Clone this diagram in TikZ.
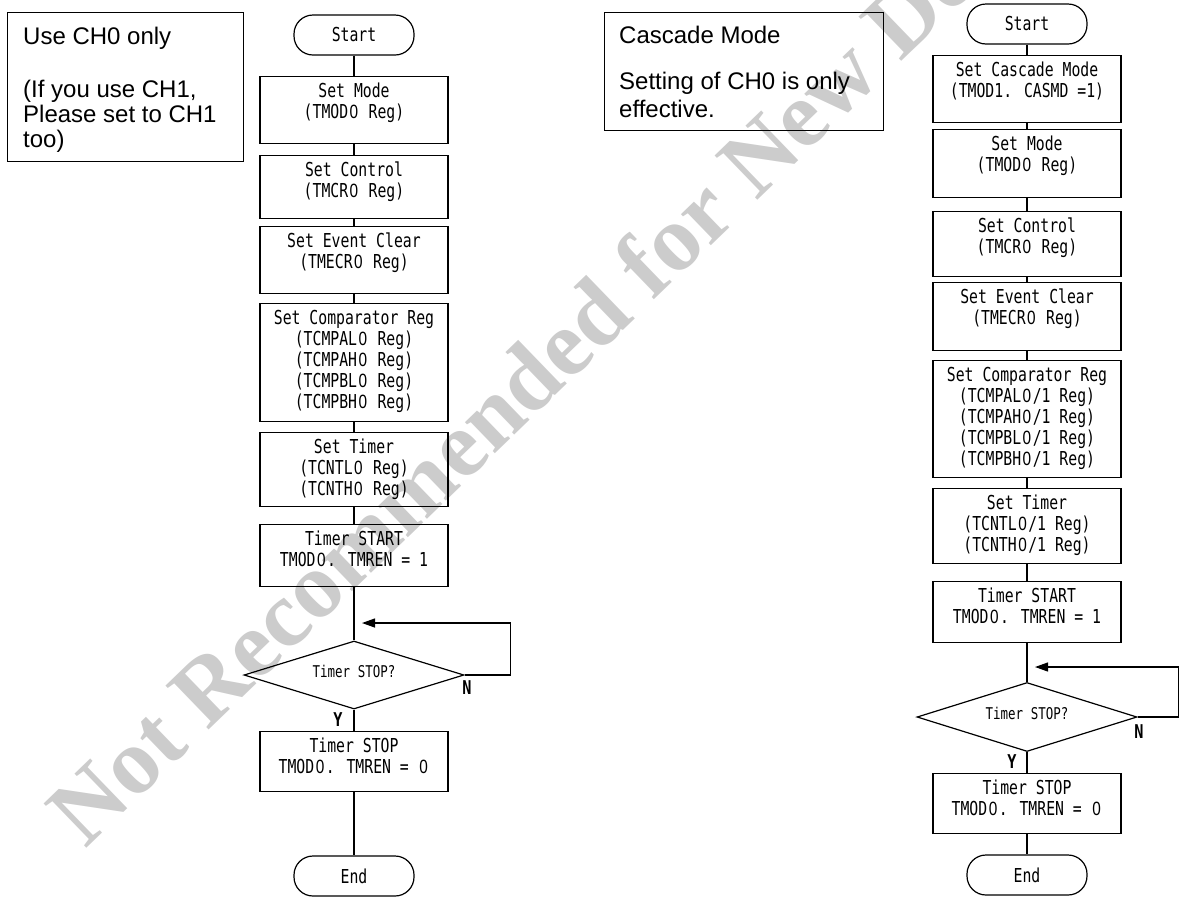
\documentclass[tikz,border=0pt]{standalone}
\usepackage{fontspec}
\setmainfont{Liberation Sans}
\newfontfamily\gothic[FakeStretch=0.77]{DejaVu Sans Mono}
\newfontfamily\zerofamily[FakeStretch=0.8]{Liberation Sans}
\newfontfamily\ynfamily[FakeStretch=0.8]{DejaVu Sans Mono}
\newfontfamily\markfamily{Liberation Serif}
\usetikzlibrary{arrows.meta,shapes.geometric}
\definecolor{wmgray}{RGB}{204,204,204}
\newcommand\ptfont{\gothic\fontsize{19.2}{21}\selectfont\lineskiplimit=-30pt}
\newcommand\decfont{\gothic\fontsize{16.2}{17}\selectfont}
\newcommand\tstrut{\rule{0pt}{16pt}}
% plain (undotted) zero, one cell wide
\newcommand\z{\makebox[0.602em][c]{\zerofamily 0}}
% a process box: name, centre x, top y, height, text
\newcommand\stepbox[5]{%
  \node[proc, minimum height=#4pt] (#1) at (#2,#3) {};
  \node[ptext] (#1-t) at ([yshift=-5.5pt]#1.north) {\tstrut#5};
}
\begin{document}
\begin{tikzpicture}[x=1pt, y=-1pt,
  proc/.style={draw, line width=1.2pt, minimum width=188pt, inner sep=0pt, anchor=north},
  ptext/.style={font=\ptfont, align=center, anchor=north, inner sep=0pt},
  term/.style={draw, line width=1.2pt, rounded corners=19pt, minimum width=120pt,
    minimum height=40pt, inner sep=0pt, font=\ptfont},
  dec/.style={draw, diamond, aspect=3.2, minimum width=220pt, minimum height=68pt,
    inner sep=0pt, line width=1.2pt},
  dectext/.style={font=\decfont, inner sep=0pt},
  note/.style={draw, line width=1.2pt, inner sep=0pt, anchor=north west},
  notetext/.style={font=\fontsize{24}{28}\selectfont, anchor=base west, inner sep=0pt},
  yn/.style={font=\ynfamily\bfseries\fontsize{19}{19}\selectfont, inner sep=0pt},
  conn/.style={line width=1.2pt},
  arrow/.style={conn, -{Triangle[length=13pt,width=9pt]}},
  wmark/.style={font=\markfamily\bfseries\fontsize{94}{94}\selectfont, text=wmgray,
    rotate=44, inner sep=0pt}]
\useasboundingbox (0,0) rectangle (1182,898);

% watermark behind the charts
\node[wmark] (wm) at (575,345) {Not Recommended for New Design};

% ---------------- single channel ----------------
\node[note, minimum width=236pt, minimum height=149pt] (lnote) at (7,12) {};
\node[notetext] (lnote-1) at (23,44) {Use CH0 only};
\node[notetext] (lnote-2) at (23,97) {(If you use CH1,};
\node[notetext] (lnote-3) at (23,122) {Please set to CH1};
\node[notetext] (lnote-4) at (23,147) {too)};

\node[term] (lstart) at (354,35) {Start};
\stepbox{lmode}{354}{76}{67}{Set Mode\\(TMOD\z{} Reg)}
\stepbox{lctrl}{354}{155}{63}{Set Control\\(TMCR\z{} Reg)}
\stepbox{levt}{354}{226}{67}{Set Event Clear\\(TMECR\z{} Reg)}
\stepbox{lcmp}{354}{303}{118}{Set Comparator Reg\\(TCMPAL\z{} Reg)\\(TCMPAH\z{} Reg)\\(TCMPBL\z{} Reg)\\(TCMPBH\z{} Reg)}
\stepbox{ltim}{354}{432}{74}{Set Timer\\(TCNTL\z{} Reg)\\(TCNTH\z{} Reg)}
\stepbox{lgo}{354}{524}{62}{Timer START\\TMOD\z. TMREN = 1}
\node[dec] (ldec) at (354,675) {};
\node[dectext] (ldec-t) at (354,671) {Timer STOP?};
\stepbox{lstop}{354}{731}{60}{Timer STOP\\TMOD\z. TMREN = \z}
\node[term] (lend) at (354,876) {End};

\draw[conn] (lstart) -- (lmode);
\draw[conn] (lmode) -- (lctrl);
\draw[conn] (lctrl) -- (levt);
\draw[conn] (levt) -- (lcmp);
\draw[conn] (lcmp) -- (ltim);
\draw[conn] (ltim) -- (lgo);
\draw[conn] (lgo) -- (ldec);
\draw[conn] (ldec) -- (lstop);
\draw[conn] (lstop) -- (lend);
\coordinate (ltip) at (362,623);
\draw[arrow] (ldec.east) -- ++(46,0) |- (ltip);
\node[yn] (ly) at (338,720) {Y};
\node[yn] (ln) at (467,688) {N};

% ---------------- cascade mode ----------------
\node[note, minimum width=279pt, minimum height=118pt] (rnote) at (604,12) {};
\node[notetext] (rnote-1) at (619,43) {Cascade Mode};
\node[notetext] (rnote-2) at (619,89) {Setting of CH0 is only};
\node[notetext] (rnote-3) at (619,117) {effective.};

\node[term] (rstart) at (1027,24) {Start};
\stepbox{rcas}{1027}{55}{67}{Set Cascade Mode\\(TMOD1. CASMD =1)}
\stepbox{rmode}{1027}{129}{68}{Set Mode\\(TMOD\z{} Reg)}
\stepbox{rctrl}{1027}{211}{65}{Set Control\\(TMCR\z{} Reg)}
\stepbox{revt}{1027}{282}{68}{Set Event Clear\\(TMECR\z{} Reg)}
\stepbox{rcmp}{1027}{360}{117}{Set Comparator Reg\\(TCMPAL\z/1 Reg)\\(TCMPAH\z/1 Reg)\\(TCMPBL\z/1 Reg)\\(TCMPBH\z/1 Reg)}
\stepbox{rtim}{1027}{488}{75}{Set Timer\\(TCNTL\z/1 Reg)\\(TCNTH\z/1 Reg)}
\stepbox{rgo}{1027}{581}{61}{Timer START\\TMOD\z. TMREN = 1}
\node[dec, minimum height=69pt] (rdec) at (1027,717) {};
\node[dectext] (rdec-t) at (1027,713) {Timer STOP?};
\stepbox{rstop}{1027}{773}{60}{Timer STOP\\TMOD\z. TMREN = \z}
\node[term] (rend) at (1027,875) {End};

\draw[conn] (rstart) -- (rcas);
\draw[conn] (rcas) -- (rmode);
\draw[conn] (rmode) -- (rctrl);
\draw[conn] (rctrl) -- (revt);
\draw[conn] (revt) -- (rcmp);
\draw[conn] (rcmp) -- (rtim);
\draw[conn] (rtim) -- (rgo);
\draw[conn] (rgo) -- (rdec);
\draw[conn] (rdec) -- (rstop);
\draw[conn] (rstop) -- (rend);
\coordinate (rtip) at (1035,667);
\draw[arrow] (rdec.east) -- ++(41,0) |- (rtip);
\node[yn] (ry) at (1012,762) {Y};
\node[yn] (rn) at (1139,732) {N};
\end{tikzpicture}
\end{document}
